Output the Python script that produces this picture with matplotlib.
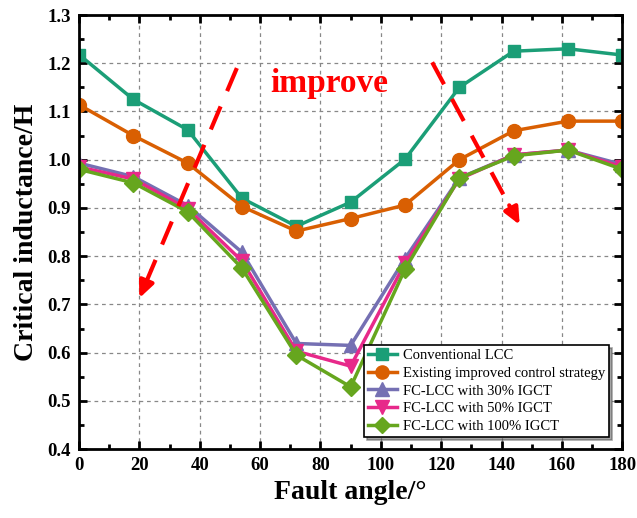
import numpy as np
import matplotlib
matplotlib.use('Agg')
import matplotlib.pyplot as plt
from matplotlib.ticker import MultipleLocator

plt.rcParams['font.family'] = ['Liberation Serif', 'DejaVu Serif']

# Data
angles = [0, 18, 36, 54, 72, 90, 108, 126, 144, 162, 180]
conventional = [1.218, 1.125, 1.062, 0.920, 0.862, 0.912, 1.001, 1.150, 1.225, 1.230, 1.217]
existing = [1.114, 1.050, 0.993, 0.903, 0.852, 0.878, 0.906, 1.000, 1.060, 1.080, 1.080]
igct30 = [0.993, 0.965, 0.905, 0.808, 0.619, 0.615, 0.795, 0.962, 1.010, 1.020, 0.990]
igct50 = [0.985, 0.960, 0.898, 0.790, 0.603, 0.572, 0.785, 0.960, 1.010, 1.020, 0.985]
igct100 = [0.980, 0.952, 0.892, 0.775, 0.595, 0.529, 0.773, 0.962, 1.008, 1.020, 0.980]

labels = ['Conventional LCC', 'Existing improved control strategy',
          'FC-LCC with 30% IGCT', 'FC-LCC with 50% IGCT', 'FC-LCC with 100% IGCT']
colors = ['#1b9e77', '#d95f02', '#7570b3', '#e7298a', '#66a61e']
markers = ['s', 'o', '^', 'v', 'D']
sizes = [9, 10, 10, 10, 9]

fig = plt.figure(figsize=(6.37, 5.18), dpi=100)
ax = fig.add_axes([0.124, 0.133, 0.853, 0.838])

series = [conventional, existing, igct30, igct50, igct100]
for vals, lab, c, m, s in zip(series, labels, colors, markers, sizes):
    ax.plot(angles, vals, color=c, marker=m, markersize=s, lw=2.5, label=lab)

ax.set_xlim(0, 180)
ax.set_ylim(0.4, 1.3)
ax.xaxis.set_major_locator(MultipleLocator(20))
ax.xaxis.set_minor_locator(MultipleLocator(10))
ax.yaxis.set_major_locator(MultipleLocator(0.1))
ax.yaxis.set_minor_locator(MultipleLocator(0.05))
ax.yaxis.set_major_formatter(matplotlib.ticker.FormatStrFormatter('%.1f'))
ax.tick_params(which='both', direction='in', top=True, right=True, width=2)
ax.tick_params(which='major', length=6, labelsize=13.5, pad=6)
ax.tick_params(which='minor', length=3.5)
for lbl in ax.get_xticklabels() + ax.get_yticklabels():
    lbl.set_fontweight('bold')
for sp in ax.spines.values():
    sp.set_linewidth(2)
ax.grid(True, which='major', linestyle=(0, (3, 3)), color='#888888', lw=0.9)

ax.set_xlabel('Fault angle/°', fontsize=20, fontweight='bold', labelpad=4)
ax.set_ylabel('Critical inductance/H', fontsize=20, fontweight='bold', labelpad=6)

# red dashed "improve" arrows
arrows = [((52.3, 1.19), (20.0, 0.713)), ((117.0, 1.202), (146.0, 0.865))]
for (x0, y0), (x1, y1) in arrows:
    xm = x0 + (x1 - x0) * 0.88
    ym = y0 + (y1 - y0) * 0.88
    ax.plot([x0, xm], [y0, ym], color='red', lw=3, linestyle=(0, (6, 4)))
    ax.annotate('', xy=(x1, y1), xytext=(xm, ym),
                arrowprops=dict(arrowstyle='-|>,head_length=1.0,head_width=0.45',
                                color='red', lw=3, shrinkA=0, shrinkB=0))
ax.text(83, 1.158, 'improve', color='red', fontsize=24, fontweight='bold',
        ha='center', va='center')

leg = ax.legend(loc='lower right', bbox_to_anchor=(0.975, 0.028), fontsize=10.5,
                frameon=True, fancybox=False, shadow=True, borderpad=0.25,
                labelspacing=0.32, handlelength=2.0, handletextpad=0.4,
                borderaxespad=0.0, markerscale=0.95)
leg.get_frame().set_edgecolor('black')
leg.get_frame().set_linewidth(1.2)

fig.savefig('out.png', dpi=100)
